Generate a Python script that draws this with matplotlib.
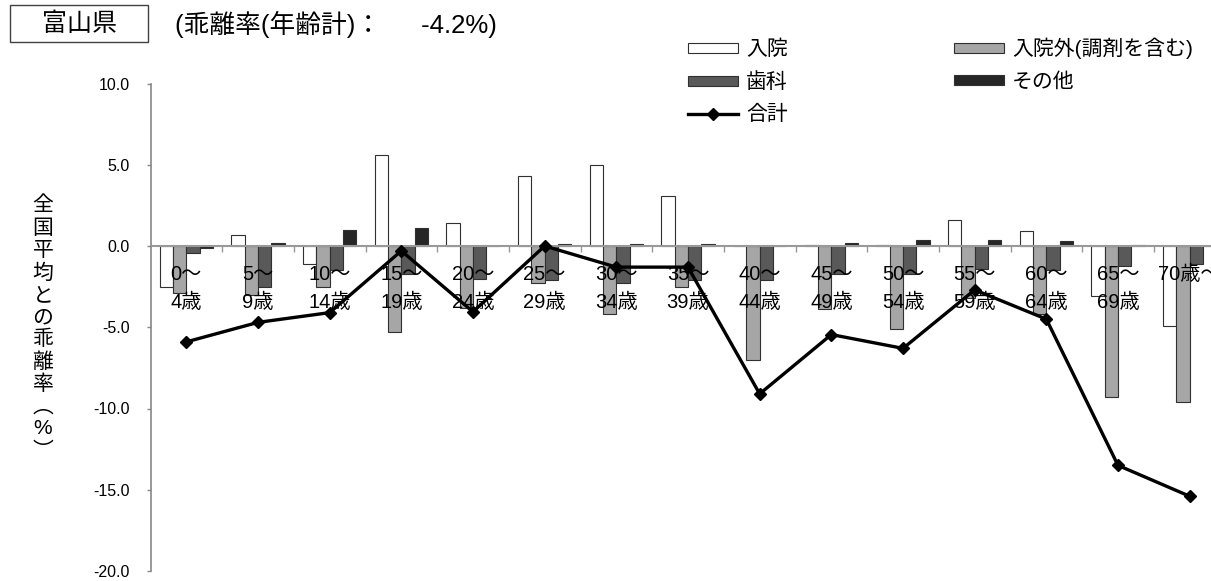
import matplotlib
matplotlib.use('Agg')
import matplotlib.pyplot as plt
import numpy as np
from matplotlib.patches import Rectangle

# ---- data ----
categories = ["0～\n4歳", "5～\n9歳", "10～\n14歳", "15～\n19歳", "20～\n24歳",
              "25～\n29歳", "30～\n34歳", "35～\n39歳", "40～\n44歳", "45～\n49歳",
              "50～\n54歳", "55～\n59歳", "60～\n64歳", "65～\n69歳", "70歳～"]
nyuin    = [-2.5, 0.7, -1.1, 5.6, 1.4, 4.3, 5.0, 3.1, 0.0, 0.05, 0.05, 1.6, 0.9, -3.1, -4.9]
nyuingai = [-2.9, -3.0, -2.5, -5.3, -3.8, -2.3, -4.2, -2.5, -7.0, -3.9, -5.1, -3.2, -4.2, -9.3, -9.6]
shika    = [-0.4, -2.5, -1.5, -1.7, -2.0, -2.1, -2.3, -2.1, -2.1, -1.7, -1.7, -1.4, -1.5, -1.2, -1.1]
sonota   = [-0.15, 0.2, 1.0, 1.1, 0.0, 0.1, 0.1, 0.15, 0.0, 0.2, 0.4, 0.4, 0.3, 0.05, 0.0]
goukei   = [-5.9, -4.7, -4.1, -0.3, -4.05, 0.0, -1.3, -1.3, -9.1, -5.45, -6.3, -2.7, -4.5, -13.5, -15.4]
series_names = ["入院", "入院外(調剤を含む)", "歯科", "その他", "合計"]
yticks = [10, 5, 0, -5, -10, -15, -20]
title_text = "富山県"
subtitle_text = "(乖離率(年齢計)：　  -4.2%)"
ylabel_chars = ["全", "国", "平", "均", "と", "の", "乖", "離", "率", "︵", "%", "︶"]

FAM = ['Liberation Sans', 'Noto Sans CJK JP', 'DejaVu Sans']
plt.rcParams['font.family'] = FAM

W, H = 1211, 581
fig = plt.figure(figsize=(W / 100, H / 100), dpi=100)
ax = fig.add_axes([150.5 / W, 10 / H, 1075 / W, 487.5 / H])
ax.set_axisbelow(False)

x = np.arange(len(categories))
bw = 0.185
colors = ['#ffffff', '#a6a6a6', '#595959', '#262626']
handles = []
for i, (vals, c) in enumerate(zip([nyuin, nyuingai, shika, sonota], colors)):
    b = ax.bar(x + (i - 1.5) * bw, vals, bw, color=c, edgecolor='#303030',
               linewidth=0.8, label=series_names[i], zorder=2)
    handles.append(b)
ln, = ax.plot(x, goukei, color='black', lw=2.4, marker='D', ms=6.5,
              label=series_names[4], zorder=4)

ax.set_xlim(-0.5, 14.5)
ax.set_ylim(-20, 10)
ax.set_yticks(yticks)
ax.set_yticklabels([f"{v:.1f}" for v in yticks])
for s in ['top', 'right']:
    ax.spines[s].set_visible(False)
ax.spines['bottom'].set_position(('data', 0))
ax.spines['bottom'].set_color('#999999')
ax.spines['bottom'].set_linewidth(1.5)
ax.spines['left'].set_color('#888888')
ax.spines['left'].set_linewidth(1.2)

ax.set_xticks(x)
ax.set_xticklabels(categories, fontsize=14.5, linespacing=1.6)
ax.set_xticks(np.arange(0.5, 15, 1), minor=True)
ax.tick_params(axis='x', which='major', length=0, pad=13.5)
ax.tick_params(axis='x', which='minor', length=4, width=1, color='#999999', direction='out')
ax.tick_params(axis='y', length=3, width=1, color='#888888', pad=12, labelsize=11.5)

# legend
order = [handles[0], handles[2], ln, handles[1], handles[3]]
labels = [series_names[0], series_names[2], series_names[4], series_names[1], series_names[3]]
fig.legend(order, labels, ncol=2, loc='upper left',
           bbox_to_anchor=(688 / W, 1 - 38 / H), frameon=False,
           fontsize=15, handlelength=2.4, handleheight=0.37,
           handletextpad=0.38, columnspacing=8.0, labelspacing=0.62,
           borderpad=0, borderaxespad=0)

# title box
fig.add_artist(Rectangle((10 / W, 1 - 42 / H), 138 / W, 37 / H, transform=fig.transFigure,
                         fill=False, edgecolor='#404040', lw=1))
fig.text(79 / W, 1 - 24 / H, title_text, ha='center', va='center', fontsize=18)
fig.text(175 / W, 1 - 24 / H, subtitle_text, ha='left', va='center', fontsize=18.5)

# vertical y label
y0, pitch = 206, 22.3
for k, ch in enumerate(ylabel_chars):
    fig.text(43 / W, 1 - (y0 + k * pitch) / H, ch, ha='center', va='center', fontsize=15)

fig.savefig('out.png', dpi=100)
